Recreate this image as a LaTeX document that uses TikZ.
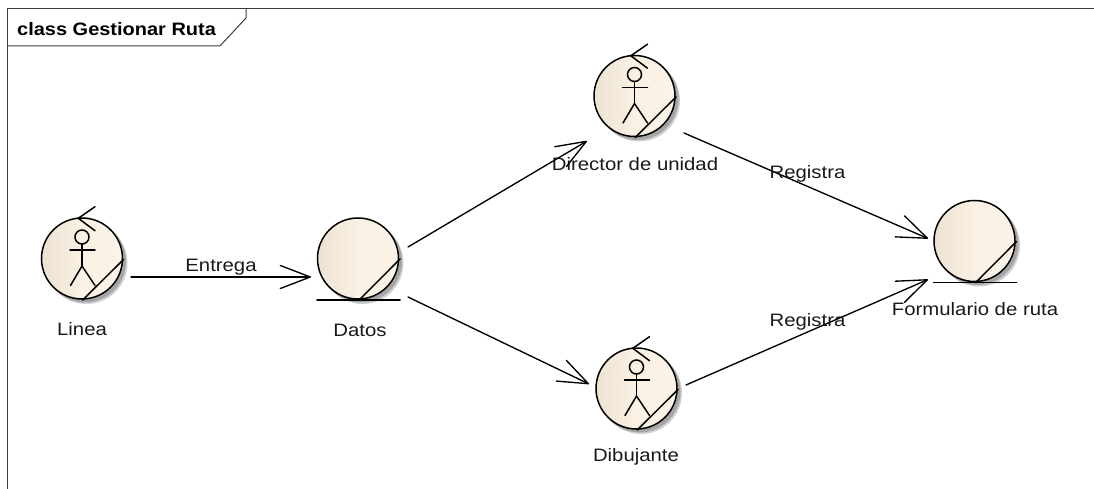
\documentclass[tikz,border=0pt]{standalone}
\usepackage{fontspec}
\setmainfont{Liberation Sans}
\newfontfamily\lblfont[FakeStretch=1.13]{Liberation Sans}
\newfontfamily\titlefont[FakeStretch=1.11]{Liberation Sans Bold}
\usetikzlibrary{arrows.meta,calc}
\definecolor{framecol}{HTML}{3C3C3C}
\definecolor{shadeL}{HTML}{EDE2D2}
\definecolor{shadeM}{HTML}{FAF1E4}
\definecolor{shadeR}{HTML}{FBF3E7}
\tikzset{
  x=1pt,y=-1pt,
  robust/.style={circle,draw=black,line width=1.5pt,minimum size=81pt,inner sep=0pt,outer sep=0pt,
    left color=shadeL,right color=shadeR,middle color=shadeM},
  softshadow/.style={fill=black!#1,draw=none},
  glyph/.style={line width=1.5pt,line cap=round,black},
  flow/.style={line width=1.35pt,line cap=round,-{Straight Barb[length=30pt,width=23pt,line width=1.35pt,round]}},
  lbl/.style={font=\lblfont\fontsize{18}{20}\selectfont,text=black!90,inner sep=0pt},
  frameline/.style={line width=1pt,framecol}
}
\newcommand{\robustelem}[2]{%
  \fill[softshadow=18] ($(#2)+(4.5,4.5)$) circle (41);
  \fill[softshadow=35] ($(#2)+(3,3)$) circle (41);
  \node[robust] (#1) at (#2) {};}
\newcommand{\actorflag}[1]{%
  \draw[glyph] ($(#1)+(13,-51.8)$) -- ($(#1)+(-3.7,-40.2)$) -- ($(#1)+(13,-27.8)$);
  \draw[glyph] ($(#1)+(0,-21.5)$) circle (7);
  \draw[glyph] ($(#1)+(-12,-8.5)$) -- ($(#1)+(13,-8.5)$);
  \draw[glyph] ($(#1)+(0,-14.5)$) -- ($(#1)+(0,7.5)$);
  \draw[glyph] ($(#1)+(-11.5,27)$) -- ($(#1)+(0,7.5)$) -- ($(#1)+(13,27)$);
  \draw[glyph] ($(#1)+(41.5,1)$) -- ($(#1)+(0.7,41.5)$);}
\newcommand{\entityglyph}[1]{%
  \draw[glyph] ($(#1)+(-41,41.7)$) -- ($(#1)+(42,41.7)$);
  \draw[glyph] ($(#1)+(1,41.7)$) -- ($(#1)+(42,0.5)$);}
\begin{document}
\begin{tikzpicture}
\useasboundingbox (0,0) rectangle (1094,489);
\draw[frameline] (1094,9) -- (7,9) -- (7,489);
\draw[frameline] (246,9) -- (246,18) -- (220,46) -- (7,46);
\node[anchor=west,inner sep=0pt,font=\titlefont\fontsize{18}{20}\selectfont] (title) at (17,29) {class Gestionar Ruta};

\robustelem{linea}{82,258.5}
\robustelem{datos}{358,258.5}
\robustelem{director}{634.5,96}
\robustelem{dibujante}{636.5,388.5}
\robustelem{formulario}{974.5,241}

\actorflag{linea}
\actorflag{director}
\actorflag{dibujante}
\entityglyph{datos}
\entityglyph{formulario}

\node[lbl] (lLinea) at (82,329.5) {Linea};
\node[lbl] (lDatos) at (360,330.5) {Datos};
\node[lbl] (lDirector) at (635,164) {Director de unidad};
\node[lbl] (lDibujante) at (636,457) {Dibujante};
\node[lbl] (lFormulario) at (975,309) {Formulario de ruta};

\draw[flow] ($(linea)+(49,18.5)$) -- node[lbl,above,yshift=1.5pt] (e1) {Entrega} ($(datos)+(-47,18.5)$);
\draw[flow] ($(datos)+(50,-11.5)$) -- ($(director)+(-47.5,45)$);
\draw[flow] ($(datos)+(50,38.5)$) -- ($(dibujante)+(-47.5,-4.5)$);
\draw[flow] ($(director)+(49.5,37)$) -- ($(formulario)+(-46.5,-2.5)$);
\draw[flow] ($(dibujante)+(49.5,-3.5)$) -- ($(formulario)+(-46.5,38.5)$);
\node[lbl] (r1) at (807.5,173.5) {Registra};
\node[lbl] (r2) at (807.5,321.5) {Registra};
\end{tikzpicture}
\end{document}
